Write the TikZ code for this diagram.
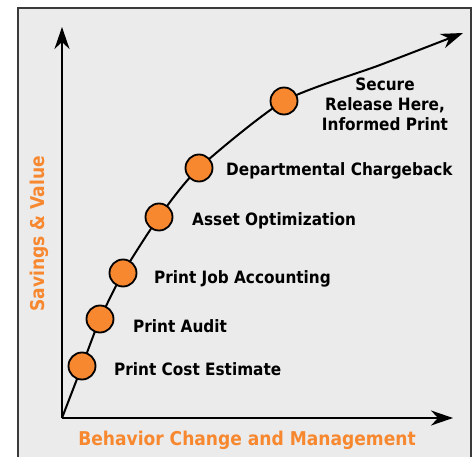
\documentclass[tikz,border=0pt]{standalone}
\usepackage{fontspec}
\setmainfont{DejaVu Sans Condensed}
\usetikzlibrary{arrows.meta}
\definecolor{bggray}{HTML}{EBEBEB}
\definecolor{framegray}{HTML}{3A3A3A}
\definecolor{orng}{HTML}{F7882F}
\tikzset{
  axisline/.style={line width=2pt, -{Stealth[length=22pt,width=15pt,inset=7pt]}},
  curveline/.style={line width=2pt, -{Stealth[length=22pt,width=15pt,inset=7pt]}},
  dot/.style={circle, draw=black, fill=orng, line width=1.8pt, minimum size=27pt, inner sep=0pt},
  lbl/.style={anchor=west, font=\fontsize{17}{20}\selectfont\bfseries, text=black, inner sep=0pt},
  axlbl/.style={font=\fontsize{19}{22}\selectfont\bfseries, text=orng, inner sep=0pt}
}
\begin{document}
\begin{tikzpicture}[x=1pt,y=-1pt]
\useasboundingbox (0,0) rectangle (476,457);
\clip (0,0) rectangle (476,457);
\fill[white] (0,0) rectangle (476,457);
\draw[fill=bggray, draw=framegray, line width=2pt] (18,8) rectangle (471,475);
\coordinate (o) at (62,418);
\coordinate (ytip) at (62,27);
\coordinate (xtip) at (453,418);
\coordinate (mid) at (380,65);
\coordinate (ctip) at (463,33);
\draw[axisline] (o) -- (ytip);
\draw[axisline] (o) -- (xtip);
\coordinate (p1) at (82,366);
\coordinate (p2) at (100,319);
\coordinate (p3) at (123,273);
\coordinate (p4) at (159,217);
\coordinate (p5) at (199,168);
\coordinate (p6) at (284,101);
\draw[curveline] plot[smooth, tension=0.4] coordinates {(o) (p1) (p2) (p3) (p4) (p5) (p6) (mid) (ctip)};
\node[dot] (c1) at (p1) {};
\node[dot] (c2) at (p2) {};
\node[dot] (c3) at (p3) {};
\node[dot] (c4) at (p4) {};
\node[dot] (c5) at (p5) {};
\node[dot] (c6) at (p6) {};
\node[lbl] (l1) at (114,369) {Print Cost Estimate};
\node[lbl] (l2) at (133,326) {Print Audit};
\node[lbl] (l3) at (154,279) {Print Job Accounting};
\node[lbl] (l4) at (192,221) {Asset Optimization};
\node[lbl] (l5) at (226,171) {Departmental Chargeback};
\node[lbl, anchor=center, align=center] (l6) at (385,104) {Secure\\Release Here,\\Informed Print};
\node[axlbl, rotate=90] (ylab) at (39,234) {Savings \& Value};
\node[axlbl] (xlab) at (247,440) {Behavior Change and Management};
\end{tikzpicture}
\end{document}
